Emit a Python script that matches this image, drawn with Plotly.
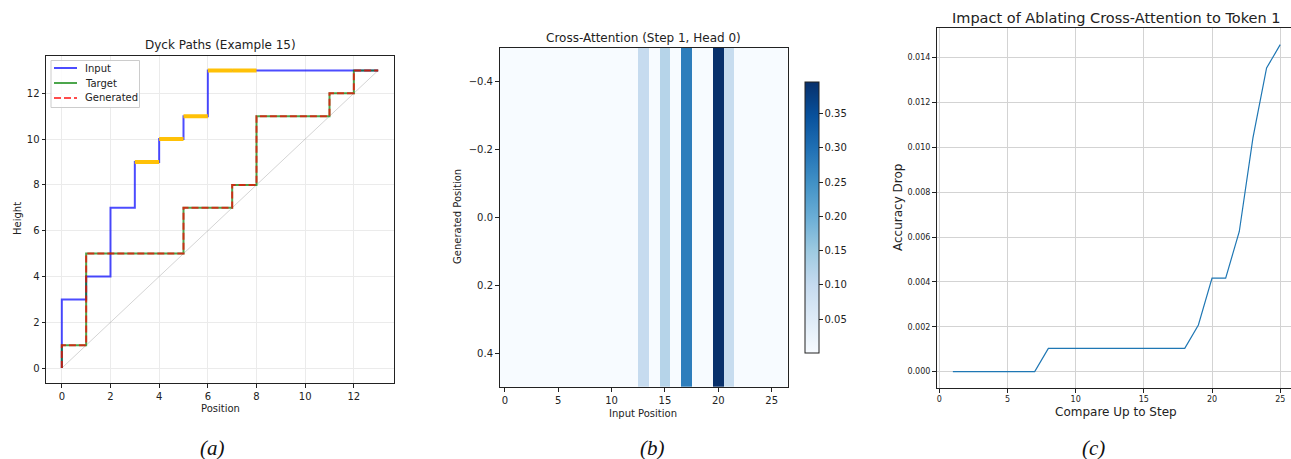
import plotly.graph_objects as go

W, H = 1291, 459

# ---- (a) Dyck paths -------------------------------------------------------
positions = list(range(14))
input_height = [0, 3, 4, 7, 9, 10, 11, 13, 13, 13, 13, 13, 13, 13]
target_height = [0, 1, 5, 5, 5, 5, 7, 7, 8, 11, 11, 11, 12, 13]
generated_height = [0, 1, 5, 5, 5, 5, 7, 7, 8, 11, 11, 11, 12, 13]
highlight_steps = [4, 5, 6, 7, 8]

# ---- (b) cross-attention weights (one generated row) ----------------------
input_positions = list(range(27))
attention = [0.0009, 0.0010, 0.0008, 0.0011, 0.0009, 0.0010, 0.0008, 0.0012,
             0.0010, 0.0009, 0.0011, 0.0010, 0.0009, 0.099, 0.0006, 0.119,
             0.0007, 0.277, 0.0005, 0.0004, 0.396, 0.097, 0.0008, 0.0010,
             0.0009, 0.0011, 0.0010]

# ---- (c) ablation curve ---------------------------------------------------
steps = list(range(1, 26))
acc_drop = [0, 0, 0, 0, 0, 0, 0,
            0.00104, 0.00104, 0.00104, 0.00104, 0.00104, 0.00104, 0.00104,
            0.00104, 0.00104, 0.00104, 0.00104,
            0.00208, 0.00417, 0.00417, 0.00625, 0.01042, 0.01354, 0.01458]

BLUES = [[0.0, "#f7fbff"], [0.125, "#deebf7"], [0.25, "#c6dbef"],
         [0.375, "#9ecae1"], [0.5, "#6baed6"], [0.625, "#4292c6"],
         [0.75, "#2171b5"], [0.875, "#08519c"], [1.0, "#08306b"]]

FONT = "DejaVu Sans"
TXT = "#222222"

INPUT_STYLE = dict(color="rgba(0,0,255,0.7)", width=2)
TARGET_STYLE = dict(color="rgba(0,128,0,0.7)", width=2)
GEN_STYLE = dict(color="rgba(255,0,0,0.7)", width=2, dash="7px,3px")


def fx(p):
    return p / W


def fy(p):
    return 1 - p / H


fig = go.Figure()

# diagonal reference
fig.add_trace(go.Scatter(x=[positions[0], positions[-1]],
                         y=[positions[0], positions[-1]],
                         mode="lines", line=dict(color="rgba(0,0,0,0.25)", width=0.7),
                         showlegend=False, hoverinfo="skip", xaxis="x", yaxis="y"))
fig.add_trace(go.Scatter(x=positions, y=input_height, mode="lines", name="Input",
                         line=dict(shape="vh", **INPUT_STYLE), showlegend=False,
                         xaxis="x", yaxis="y"))
hx, hy = [], []
for i in highlight_steps:
    hx += [positions[i - 1], positions[i], None]
    hy += [input_height[i], input_height[i], None]
fig.add_trace(go.Scatter(x=hx, y=hy, mode="lines",
                         line=dict(color="#FFC107", width=4),
                         showlegend=False, xaxis="x", yaxis="y"))
fig.add_trace(go.Scatter(x=positions, y=target_height, mode="lines", name="Target",
                         line=dict(shape="vh", **TARGET_STYLE), showlegend=False,
                         xaxis="x", yaxis="y"))
fig.add_trace(go.Scatter(x=positions, y=generated_height, mode="lines", name="Generated",
                         line=dict(shape="vh", **GEN_STYLE), showlegend=False,
                         xaxis="x", yaxis="y"))

fig.add_trace(go.Heatmap(z=[attention], x=input_positions, y=[0],
                         colorscale=BLUES, zmin=min(attention), zmax=max(attention),
                         xaxis="x2", yaxis="y2",
                         colorbar=dict(x=fx(805), xanchor="left", xpad=0,
                                       y=fy(353), yanchor="bottom", ypad=0,
                                       len=(353 - 81.7) / H, lenmode="fraction",
                                       thickness=14, thicknessmode="pixels",
                                       outlinewidth=1, outlinecolor="#222",
                                       tickvals=[0.05, 0.10, 0.15, 0.20, 0.25, 0.30, 0.35],
                                       ticktext=["0.05", "0.10", "0.15", "0.20", "0.25", "0.30", "0.35"],
                                       ticks="outside", ticklen=3.5, tickwidth=0.8,
                                       tickcolor="#222",
                                       tickfont=dict(family=FONT, size=10, color=TXT))))

fig.add_trace(go.Scatter(x=steps, y=acc_drop, mode="lines",
                         line=dict(color="#1f77b4", width=1.2),
                         showlegend=False, xaxis="x3", yaxis="y3"))

axis_common = dict(showline=True, linecolor="#222", linewidth=1, ticks="outside",
                   ticklen=3.5, tickwidth=0.8, tickcolor="#222", zeroline=False)

fig.update_layout(
    width=W, height=H, margin=dict(l=0, r=0, t=0, b=0),
    paper_bgcolor="white", plot_bgcolor="white",
    font=dict(family=FONT, color=TXT),
    showlegend=False,
    xaxis=dict(domain=[fx(46), fx(394)], anchor="y", range=[-0.65, 13.65],
               tickvals=[0, 2, 4, 6, 8, 10, 12], mirror=True,
               showgrid=True, gridcolor="#ebebeb", gridwidth=1,
               tickfont=dict(size=10), **axis_common),
    yaxis=dict(domain=[fy(383), fy(55.5)], anchor="x", range=[-0.65, 13.65],
               tickvals=[0, 2, 4, 6, 8, 10, 12], mirror=True,
               showgrid=True, gridcolor="#ebebeb", gridwidth=1,
               tickfont=dict(size=10), **axis_common),
    xaxis2=dict(domain=[fx(499.5), fx(787.7)], anchor="y2", range=[-0.5, 26.5],
                tickvals=[0, 5, 10, 15, 20, 25], mirror=True, showgrid=False,
                tickfont=dict(size=10), **axis_common),
    yaxis2=dict(domain=[fy(387), fy(47.7)], anchor="x2", range=[0.5, -0.5],
                tickvals=[-0.4, -0.2, 0.0, 0.2, 0.4], tickformat=".1f", mirror=True,
                showgrid=False, tickfont=dict(size=10), **axis_common),
    xaxis3=dict(domain=[fx(936.5), 1.0], anchor="y3", range=[-0.2, 25.79],
                tickvals=[0, 5, 10, 15, 20, 25], mirror=True,
                showgrid=True, gridcolor="#d3d3d3", gridwidth=1,
                tickfont=dict(size=8), **axis_common),
    yaxis3=dict(domain=[fy(388), fy(28.3)], anchor="x3", range=[-0.000729, 0.01531],
                tickvals=[0, 0.002, 0.004, 0.006, 0.008, 0.010, 0.012, 0.014],
                tickformat=".3f", mirror=False,
                showgrid=True, gridcolor="#d3d3d3", gridwidth=1,
                tickfont=dict(size=8), **axis_common),
)

# legend box for panel (a)
fig.add_shape(type="rect", xref="paper", yref="paper",
              x0=fx(51), x1=fx(139.5), y0=fy(107.5), y1=fy(60.5),
              line=dict(color="#cccccc", width=1), fillcolor="rgba(255,255,255,0.85)",
              layer="above")
for row, (name, style) in enumerate([("Input", INPUT_STYLE), ("Target", TARGET_STYLE),
                                     ("Generated", GEN_STYLE)]):
    yy = 68 + 15 * row
    fig.add_shape(type="line", xref="paper", yref="paper",
                  x0=fx(54), x1=fx(77), y0=fy(yy), y1=fy(yy), line=style, layer="above")
    fig.add_annotation(text=name, x=fx(82.5), y=fy(yy), xref="paper", yref="paper",
                       xanchor="left", yanchor="middle", showarrow=False,
                       font=dict(family=FONT, size=10, color=TXT))

texts = [
    ("Dyck Paths (Example 15)", 220, 45, 12, 0),
    ("Position", 220, 408, 10, 0),
    ("Height", 17, 219, 10, -90),
    ("Cross-Attention (Step 1, Head 0)", 643, 37.5, 12, 0),
    ("Input Position", 643, 413, 10, 0),
    ("Generated Position", 457, 217, 10, -90),
    ("Impact of Ablating Cross-Attention to Token 1", 1116, 18, 14.5, 0),
    ("Compare Up to Step", 1116, 411.5, 12, 0),
    ("Accuracy Drop", 898, 208, 12, -90),
]
for txt, px, py, size, ang in texts:
    fig.add_annotation(text=txt, x=fx(px), y=fy(py), xref="paper", yref="paper",
                       xanchor="center", yanchor="middle", showarrow=False,
                       textangle=ang, font=dict(family=FONT, size=size, color=TXT))

for lab, px in [("(a)", 212), ("(b)", 652), ("(c)", 1093)]:
    fig.add_annotation(text=lab, x=fx(px), y=fy(448), xref="paper",
                       yref="paper", xanchor="center", yanchor="middle",
                       showarrow=False, borderpad=3,
                       font=dict(family="Liberation Serif", size=21, color="#111",
                                 style="italic"))

fig.write_html("out.html")
